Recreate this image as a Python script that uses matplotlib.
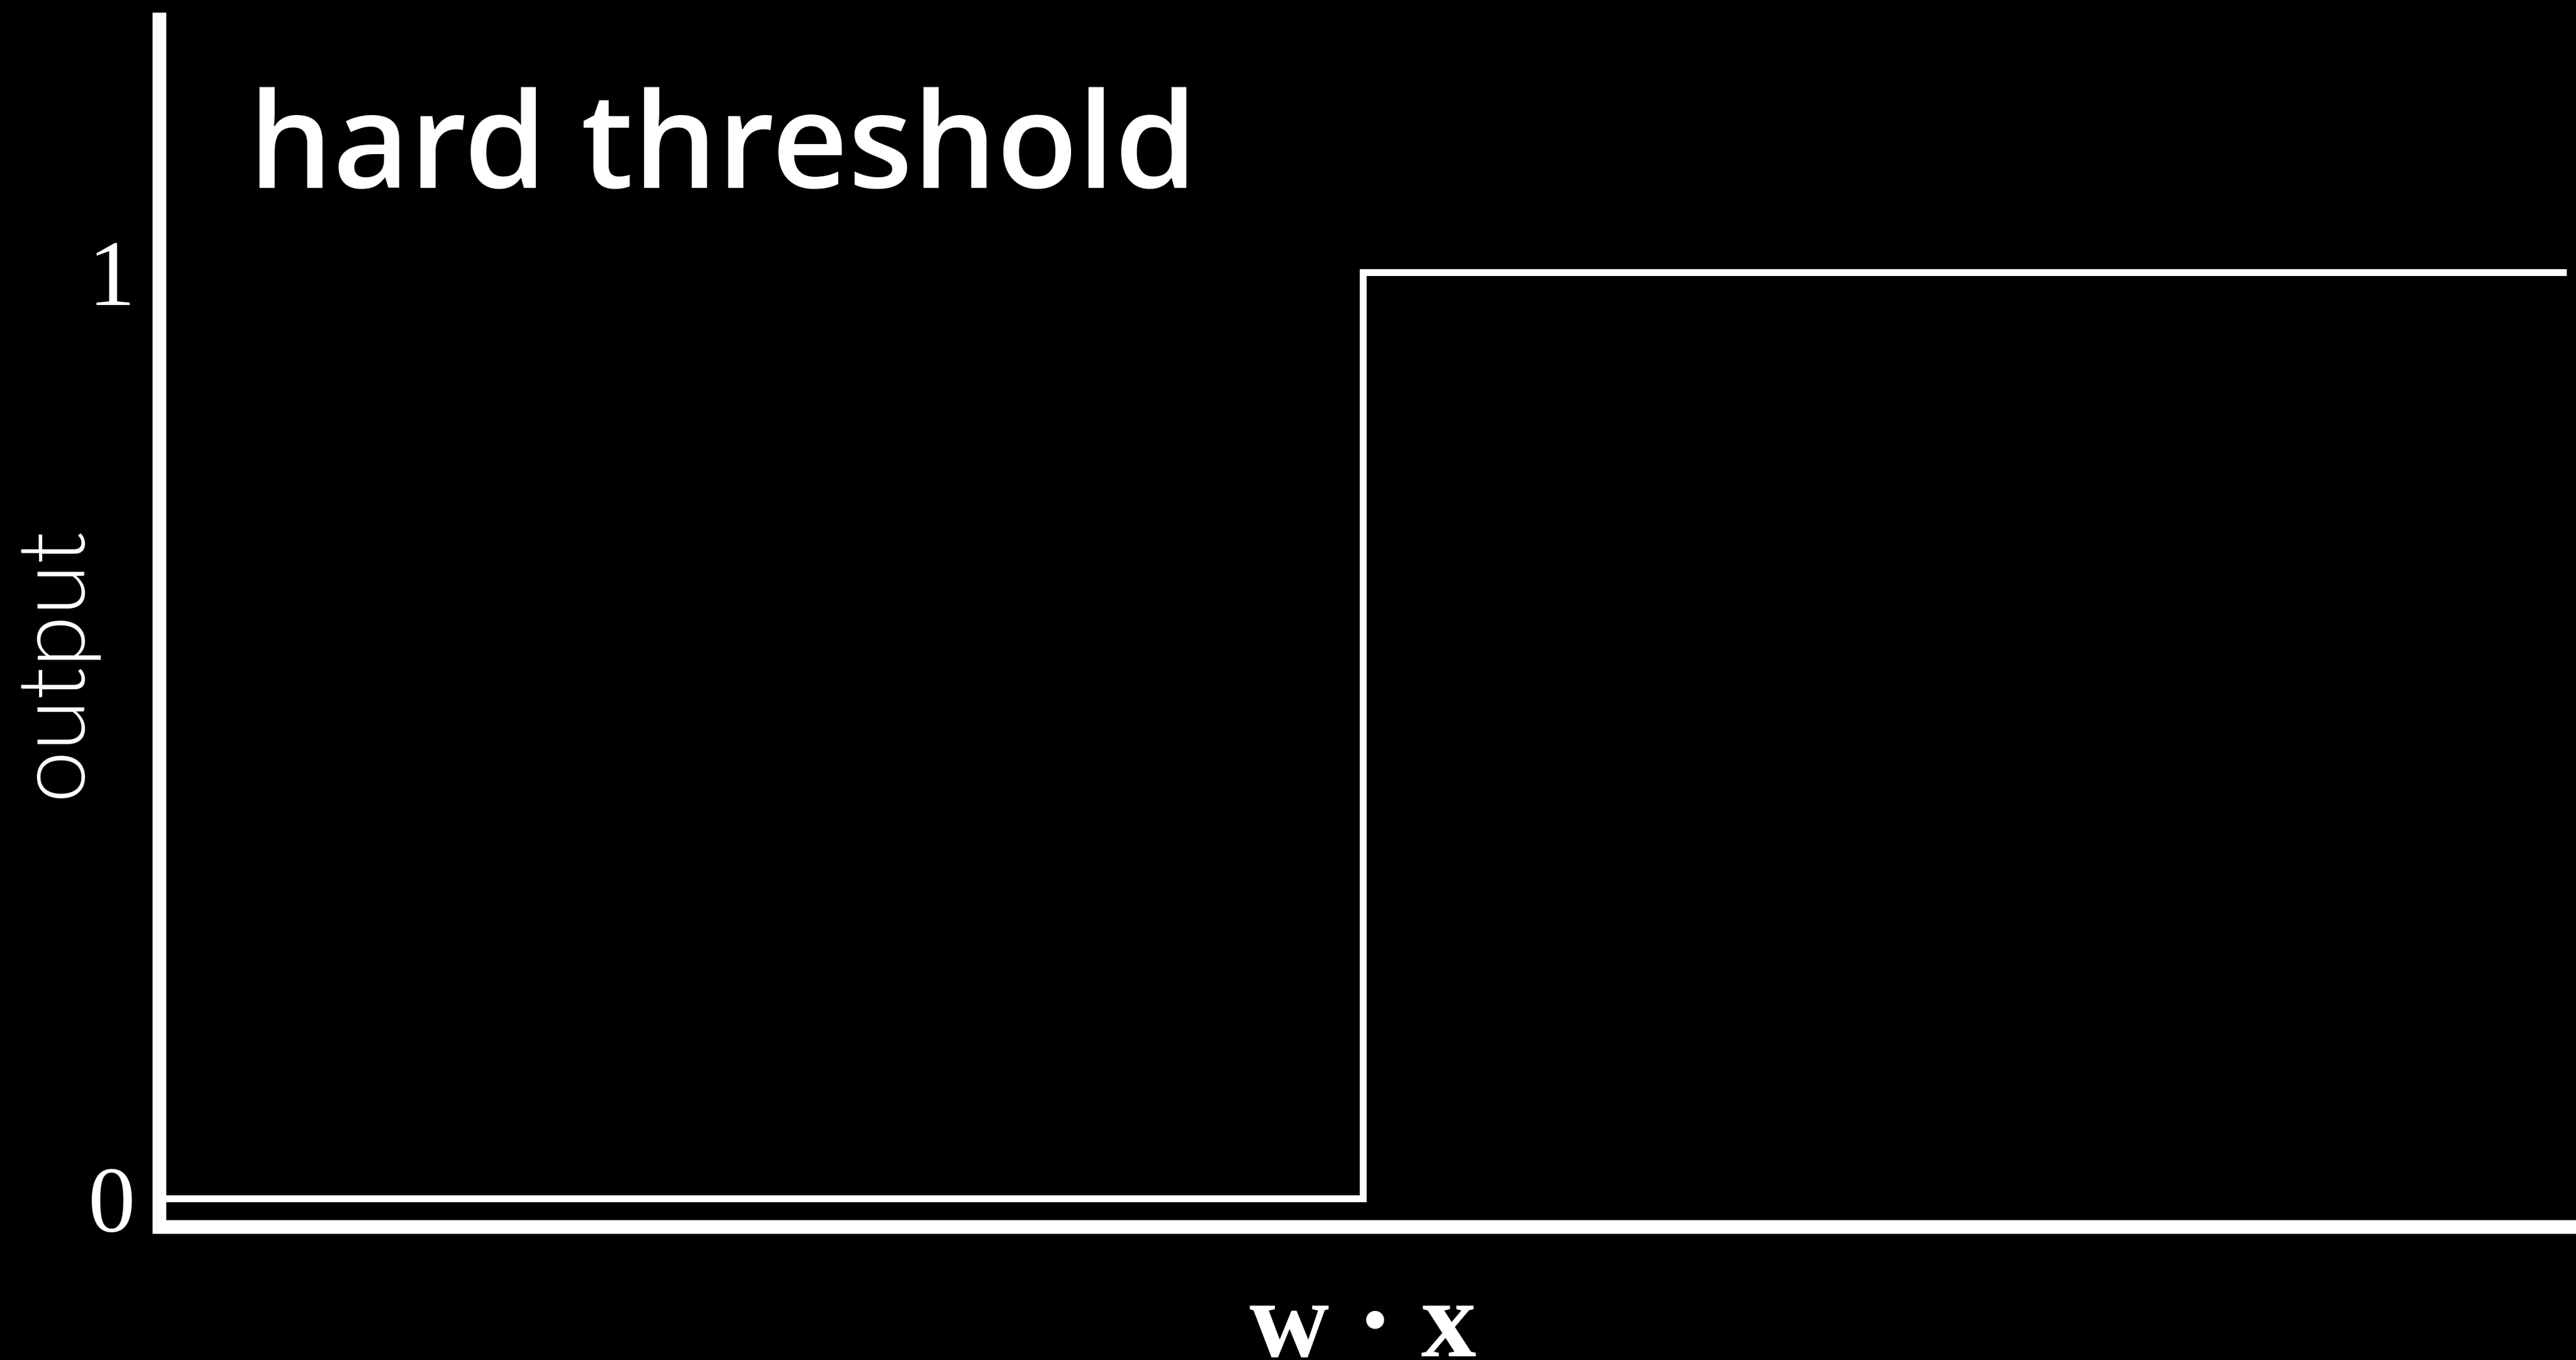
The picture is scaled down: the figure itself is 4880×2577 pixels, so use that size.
import matplotlib
matplotlib.use("Agg")
import matplotlib.pyplot as plt

# ---- data ----
w_dot_x = [-1.0, 0.0, 0.0, 1.0]
output = [0.0, 0.0, 1.0, 1.0]
y_ticks = [0, 1]
y_tick_labels = ["0", "1"]
title_text = "hard threshold"
x_label = "w \u00b7 x"
y_label = "output"

DPI = 100
PX = 72.0 / DPI  # points per pixel

fig = plt.figure(figsize=(48.8, 25.77), dpi=DPI, facecolor="black")
ax = fig.add_axes([302 / 4880, (2577 - 2325) / 2577, 1 - 302 / 4880, (2325 - 37) / 2577])
ax.set_facecolor("black")

ax.plot(w_dot_x, output, color="white", lw=13 * PX,
        solid_capstyle="butt", solid_joinstyle="miter", zorder=2)

ax.set_xlim(-1.0, 1.0079)
ax.set_ylim(-0.0305, 1.2732)

for s in ["top", "right"]:
    ax.spines[s].set_visible(False)
for s in ["left", "bottom"]:
    ax.spines[s].set_color("white")
    ax.spines[s].set_linewidth(26 * PX)
    ax.spines[s].set_capstyle("projecting")

ax.set_xticks([])
ax.set_yticks(y_ticks)
ax.set_yticklabels(y_tick_labels, fontfamily="Liberation Serif",
                   fontsize=179 * PX, color="white")
ax.tick_params(axis="y", length=0, pad=46 * PX)

ax.set_xlabel(x_label, fontfamily="Liberation Serif", fontweight="bold",
              fontsize=209 * PX, color="white")
ax.xaxis.set_label_coords(0.498, -0.1071)
ax.xaxis.label.set_va("baseline")

ax.set_ylabel(y_label, fontfamily="Lato", fontweight=300,
              fontsize=178 * PX, color="white")
ax.yaxis.set_label_coords(-0.0435, 0.468)
ax.yaxis.label.set_va("center")

ax.text(0.0370, 0.8606, title_text, transform=ax.transAxes,
        fontfamily="Open Sans", fontweight=600, fontsize=251 * PX,
        color="white", ha="left", va="baseline")

fig.savefig("out.png", dpi=DPI, facecolor="black")
